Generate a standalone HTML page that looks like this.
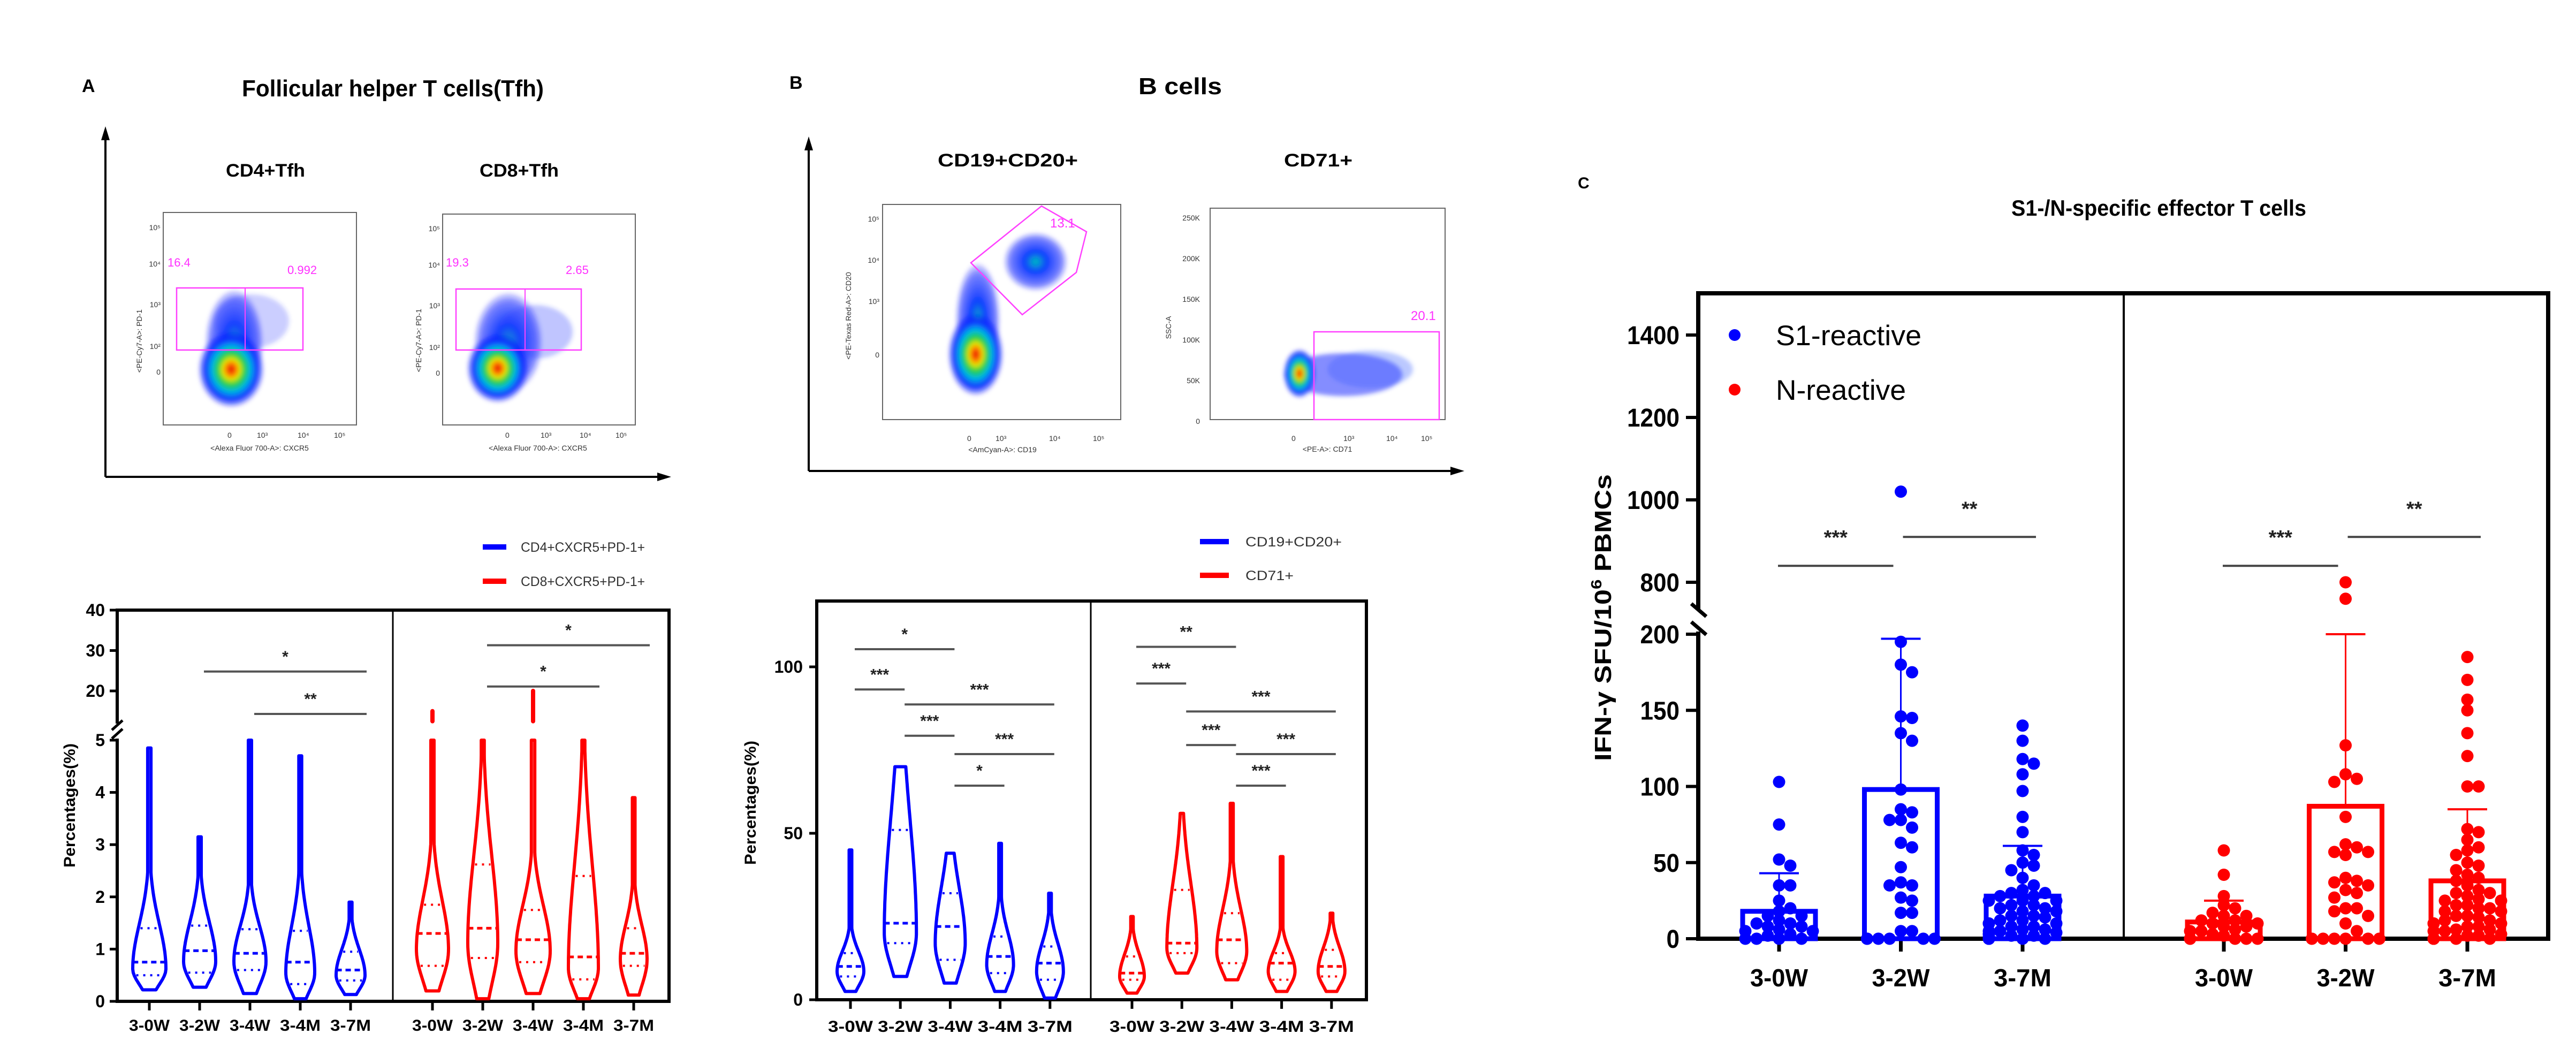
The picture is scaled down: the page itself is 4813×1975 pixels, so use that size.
<!DOCTYPE html>
<html><head><meta charset="utf-8"><style>
html,body{margin:0;padding:0;background:#fff;}
svg{display:block;font-family:"Liberation Sans",Arial,sans-serif;}
.b{font-weight:bold;}
</style></head><body>
<svg id="fig" width="4813" height="1975" viewBox="0 0 4813 1975" xmlns="http://www.w3.org/2000/svg">
<defs>
<radialGradient id="heat" cx="50%" cy="50%" r="50%">
<stop offset="0%" stop-color="#e00000"/><stop offset="14%" stop-color="#ff7000"/><stop offset="26%" stop-color="#e8e800"/><stop offset="40%" stop-color="#20d040"/><stop offset="58%" stop-color="#00b8e8"/><stop offset="78%" stop-color="#1030ff"/><stop offset="100%" stop-color="#0000ff" stop-opacity="0"/>
</radialGradient>
<radialGradient id="cool" cx="50%" cy="50%" r="50%">
<stop offset="0%" stop-color="#00c0c0"/><stop offset="35%" stop-color="#1040ff"/><stop offset="80%" stop-color="#2030ff" stop-opacity="0.6"/><stop offset="100%" stop-color="#0000ff" stop-opacity="0"/>
</radialGradient>
<filter id="bl"><feGaussianBlur stdDeviation="4"/></filter>
</defs>
<rect x="0" y="0" width="4813" height="1975" fill="#fff"/>

<!-- ===== Panel A top ===== -->
<g>
<text x="153" y="172" class="b" font-size="34">A</text>
<text x="452" y="180" class="b" font-size="44" textLength="564" lengthAdjust="spacingAndGlyphs">Follicular helper T cells(Tfh)</text>
<line x1="197" y1="250" x2="197" y2="891" stroke="#000" stroke-width="4"/>
<polygon points="197,236 189,262 205,262" fill="#000"/>
<line x1="197" y1="891" x2="1240" y2="891" stroke="#000" stroke-width="4"/>
<polygon points="1254,891 1228,883 1228,899" fill="#000"/>
<text x="496" y="330" class="b" font-size="34" text-anchor="middle" textLength="148" lengthAdjust="spacingAndGlyphs">CD4+Tfh</text>
<text x="970" y="330" class="b" font-size="34" text-anchor="middle" textLength="148" lengthAdjust="spacingAndGlyphs">CD8+Tfh</text>
<!-- plot 1 -->
<g>
<rect x="305" y="397" width="361" height="397" fill="#fff" stroke="#666" stroke-width="2"/>
<g filter="url(#bl)">
<ellipse cx="438" cy="640" rx="55" ry="100" fill="url(#cool)"/>
<ellipse cx="470" cy="600" rx="70" ry="50" fill="#3040ff" opacity="0.25"/>
<ellipse cx="432" cy="690" rx="62" ry="72" fill="url(#heat)"/>
</g>
<rect x="330" y="538" width="236" height="116" fill="none" stroke="#ff40ff" stroke-width="2.5"/>
<line x1="458" y1="538" x2="458" y2="654" stroke="#ff40ff" stroke-width="2"/>
<text x="313" y="498" font-size="22" fill="#ff30ff">16.4</text>
<text x="537" y="512" font-size="22" fill="#ff30ff">0.992</text>
<text x="287" y="600" font-size="14" fill="#333" text-anchor="end" transform="rotate(-90 265 600)">&lt;PE-Cy7-A&gt;: PD-1</text>
<text x="300" y="430" font-size="14" fill="#333" text-anchor="end">10⁵</text>
<text x="300" y="498" font-size="14" fill="#333" text-anchor="end">10⁴</text>
<text x="300" y="574" font-size="14" fill="#333" text-anchor="end">10³</text>
<text x="300" y="652" font-size="14" fill="#333" text-anchor="end">10²</text>
<text x="300" y="700" font-size="14" fill="#333" text-anchor="end">0</text>
<text x="425" y="818" font-size="14" fill="#333">0</text><text x="480" y="818" font-size="14" fill="#333">10³</text><text x="556" y="818" font-size="14" fill="#333">10⁴</text><text x="624" y="818" font-size="14" fill="#333">10⁵</text>
<text x="485" y="842" font-size="14" fill="#333" text-anchor="middle">&lt;Alexa Fluor 700-A&gt;: CXCR5</text>
</g>
<!-- plot 2 -->
<g>
<rect x="827" y="400" width="360" height="394" fill="#fff" stroke="#666" stroke-width="2"/>
<g filter="url(#bl)">
<ellipse cx="950" cy="640" rx="65" ry="95" fill="url(#cool)"/>
<ellipse cx="1000" cy="620" rx="70" ry="50" fill="#3040ff" opacity="0.3"/>
<ellipse cx="930" cy="688" rx="58" ry="65" fill="url(#heat)"/>
</g>
<rect x="852" y="540" width="234" height="114" fill="none" stroke="#ff40ff" stroke-width="2.5"/>
<line x1="981" y1="540" x2="981" y2="654" stroke="#ff40ff" stroke-width="2"/>
<text x="833" y="498" font-size="22" fill="#ff30ff">19.3</text>
<text x="1057" y="512" font-size="22" fill="#ff30ff">2.65</text>
<text x="810" y="600" font-size="14" fill="#333" text-anchor="end" transform="rotate(-90 787 600)">&lt;PE-Cy7-A&gt;: PD-1</text>
<text x="822" y="432" font-size="14" fill="#333" text-anchor="end">10⁵</text>
<text x="822" y="500" font-size="14" fill="#333" text-anchor="end">10⁴</text>
<text x="822" y="576" font-size="14" fill="#333" text-anchor="end">10³</text>
<text x="822" y="654" font-size="14" fill="#333" text-anchor="end">10²</text>
<text x="822" y="702" font-size="14" fill="#333" text-anchor="end">0</text>
<text x="944" y="818" font-size="14" fill="#333">0</text><text x="1010" y="818" font-size="14" fill="#333">10³</text><text x="1083" y="818" font-size="14" fill="#333">10⁴</text><text x="1150" y="818" font-size="14" fill="#333">10⁵</text>
<text x="1005" y="842" font-size="14" fill="#333" text-anchor="middle">&lt;Alexa Fluor 700-A&gt;: CXCR5</text>
</g>
</g>

<!-- ===== Panel B top ===== -->
<g>
<text x="1475" y="166" class="b" font-size="34">B</text>
<text x="2205" y="176" class="b" font-size="44" text-anchor="middle" textLength="156" lengthAdjust="spacingAndGlyphs">B cells</text>
<line x1="1511" y1="270" x2="1511" y2="880" stroke="#000" stroke-width="4"/>
<polygon points="1511,255 1503,281 1519,281" fill="#000"/>
<line x1="1511" y1="880" x2="2720" y2="880" stroke="#000" stroke-width="4"/>
<polygon points="2736,880 2710,872 2710,888" fill="#000"/>
<text x="1883" y="311" class="b" font-size="34" text-anchor="middle" textLength="262" lengthAdjust="spacingAndGlyphs">CD19+CD20+</text>
<text x="2463" y="311" class="b" font-size="34" text-anchor="middle" textLength="128" lengthAdjust="spacingAndGlyphs">CD71+</text>
<g>
<rect x="1649" y="382" width="445" height="402" fill="#fff" stroke="#666" stroke-width="2"/>
<g filter="url(#bl)">
<ellipse cx="1827" cy="600" rx="42" ry="110" fill="url(#cool)"/>
<ellipse cx="1823" cy="662" rx="52" ry="78" fill="url(#heat)"/>
<ellipse cx="1935" cy="489" rx="60" ry="55" fill="url(#cool)"/>
</g>
<polygon points="1814,491 1946,385 2030,433 2011,509 1910,588" fill="none" stroke="#ff40ff" stroke-width="2.5"/>
<text x="1962" y="425" font-size="24" fill="#ff30ff">13.1</text>
<text x="1590" y="590" font-size="14" fill="#333" text-anchor="middle" transform="rotate(-90 1590 590)">&lt;PE-Texas Red-A&gt;: CD20</text>
<text x="1643" y="414" font-size="14" fill="#333" text-anchor="end">10⁵</text>
<text x="1643" y="491" font-size="14" fill="#333" text-anchor="end">10⁴</text>
<text x="1643" y="568" font-size="14" fill="#333" text-anchor="end">10³</text>
<text x="1643" y="668" font-size="14" fill="#333" text-anchor="end">0</text>
<text x="1807" y="824" font-size="14" fill="#333">0</text><text x="1860" y="824" font-size="14" fill="#333">10³</text><text x="1960" y="824" font-size="14" fill="#333">10⁴</text><text x="2042" y="824" font-size="14" fill="#333">10⁵</text>
<text x="1873" y="845" font-size="14" fill="#333" text-anchor="middle">&lt;AmCyan-A&gt;: CD19</text>
</g>
<g>
<rect x="2261" y="389" width="439" height="395" fill="#fff" stroke="#666" stroke-width="2"/>
<g filter="url(#bl)">
<ellipse cx="2510" cy="700" rx="110" ry="40" fill="#2030ff" opacity="0.55"/>
<ellipse cx="2560" cy="690" rx="80" ry="35" fill="#4060ff" opacity="0.35"/>
<ellipse cx="2428" cy="698" rx="30" ry="46" fill="url(#heat)"/>
</g>
<rect x="2455" y="620" width="234" height="164" fill="none" stroke="#ff40ff" stroke-width="2.5"/>
<text x="2636" y="598" font-size="24" fill="#ff30ff">20.1</text>
<text x="2188" y="612" font-size="14" fill="#333" text-anchor="middle" transform="rotate(-90 2188 612)">SSC-A</text>
<text x="2242" y="412" font-size="14" fill="#333" text-anchor="end">250K</text>
<text x="2242" y="488" font-size="14" fill="#333" text-anchor="end">200K</text>
<text x="2242" y="564" font-size="14" fill="#333" text-anchor="end">150K</text>
<text x="2242" y="640" font-size="14" fill="#333" text-anchor="end">100K</text>
<text x="2242" y="716" font-size="14" fill="#333" text-anchor="end">50K</text>
<text x="2242" y="792" font-size="14" fill="#333" text-anchor="end">0</text>
<text x="2413" y="824" font-size="14" fill="#333">0</text><text x="2510" y="824" font-size="14" fill="#333">10³</text><text x="2590" y="824" font-size="14" fill="#333">10⁴</text><text x="2655" y="824" font-size="14" fill="#333">10⁵</text>
<text x="2480" y="844" font-size="14" fill="#333" text-anchor="middle">&lt;PE-A&gt;: CD71</text>
</g>
</g>

<!-- ===== Panel A bottom legend ===== -->
<g>
<rect x="902" y="1017" width="44" height="10" fill="#0000ff"/>
<text x="973" y="1031" font-size="25" fill="#333" textLength="232" lengthAdjust="spacingAndGlyphs">CD4+CXCR5+PD-1+</text>
<rect x="902" y="1081" width="44" height="10" fill="#ff0000"/>
<text x="973" y="1095" font-size="25" fill="#333" textLength="232" lengthAdjust="spacingAndGlyphs">CD8+CXCR5+PD-1+</text>
</g>
<g>
<rect x="2242" y="1007" width="54" height="10" fill="#0000ff"/>
<text x="2327" y="1021" font-size="25" fill="#333" textLength="180" lengthAdjust="spacingAndGlyphs">CD19+CD20+</text>
<rect x="2242" y="1070" width="54" height="10" fill="#ff0000"/>
<text x="2327" y="1084" font-size="25" fill="#333" textLength="90" lengthAdjust="spacingAndGlyphs">CD71+</text>
</g>

<!-- ===== Panel C static ===== -->
<text x="2948" y="352" class="b" font-size="30">C</text>
<text x="3758" y="403" class="b" font-size="42" textLength="551" lengthAdjust="spacingAndGlyphs">S1-/N-specific effector T cells</text>
<g>
<circle cx="3241" cy="626" r="11" fill="#0000ff"/>
<text x="3318" y="645" font-size="53" textLength="272" lengthAdjust="spacingAndGlyphs">S1-reactive</text>
<circle cx="3241" cy="728" r="11" fill="#ff0000"/>
<text x="3318" y="747" font-size="53" textLength="243" lengthAdjust="spacingAndGlyphs">N-reactive</text>
</g>
<text x="0" y="0" class="b" font-size="44" text-anchor="middle" transform="translate(3010 1154) rotate(-90)" textLength="536" lengthAdjust="spacingAndGlyphs">IFN-γ SFU/10<tspan font-size="28" dy="-18">6</tspan><tspan dy="18"> PBMCs</tspan></text>

<g id="charts"></g>
</svg>

<script>
// ---------- Panel A data (violins, % of cells) ----------
const aCategories = ['3-0W','3-2W','3-4W','3-4M','3-7M'];
const aBlueMin = [0.22,0.27,0.15,0.05,0.13];
const aBlueQ1  = [0.5,0.55,0.6,0.33,0.4];
const aBlueMed = [0.75,0.97,0.92,0.75,0.6];
const aBlueQ3  = [1.4,1.45,1.38,1.35,0.95];
const aBlueMax = [4.85,3.15,5.0,4.7,1.9];
const aBlueDensity = [31,30,30,27,27];
const aRedMin = [0.2,0.05,0.15,0.05,0.12];
const aRedQ1  = [0.68,0.83,0.75,0.42,0.68];
const aRedMed = [1.3,1.4,1.18,0.85,0.92];
const aRedQ3  = [1.85,2.62,1.75,2.4,1.4];
const aRedMax = [15,5,20,5,3.9];
const aRedDensity = [30,28,32,28,25];
const aTickLower = [0,1,2,3,4,5];
const aTickUpper = [20,30,40];
const aSigFrom = [1,2,1,1];
const aSigTo   = [4,4,4,3];
const aSigVal  = [24.8,14.3,31.3,21.1];
const aSigText = ['*','**','*','*'];
const aSigSeries = ['blue','blue','red','red'];

// ---------- Panel B data ----------
const bCategories = ['3-0W','3-2W','3-4W','3-4M','3-7M'];
const bBlueMin = [2.5,7,5,2.5,0.5];
const bBlueQ1  = [7,17,12,8,6];
const bBlueMed = [10,23,22,13,11];
const bBlueQ3  = [14,51,32,19,16];
const bBlueMax = [45,70,44,47,32];
const bBlueDensity = [25,30,28,25,25];
const bRedMin = [2,8,6,2.5,2.5];
const bRedQ1  = [6,14,11,6,7];
const bRedMed = [8,17,18,11,10];
const bRedQ3  = [13,33,26,14,15];
const bRedMax = [25,56,59,43,26];
const bRedDensity = [23,28,28,25,25];
const bTicks = [0,50,100];
const bSigFrom = [0,0,1,1,2,2, 0,0,1,1,2,2];
const bSigTo   = [2,1,4,2,4,3, 2,1,4,2,4,3];
const bSigVal  = [105.3,93.2,88.7,79.3,73.8,64.3, 106,95,86.6,76.5,73.8,64.3];
const bSigText = ['*','***','***','***','***','*', '**','***','***','***','***','***'];
const bSigSeries = ['blue','blue','blue','blue','blue','blue','red','red','red','red','red','red'];

// ---------- Panel C data (IFN-γ SFU/10^6 PBMCs) ----------
const cCategories = ['3-0W','3-2W','3-7M'];
const s1Mean = [18,98,28];
const s1ErrTop = [43,197,61];
const nMean = [11,87,38];
const nErrTop = [25,200,85];
const s1Pts0 = [103,75,52,48,35,35,25,20,18,15,12,10,10,8,8,6,5,5,3,2,0,0,0,0,15];
const s1Pts1 = [1020,195,180,175,146,145,135,130,98,85,83,78,78,73,63,60,47,37,35,35,27,25,17,17,5,5,0,0,0,0,0,0];
const s1Pts2 = [140,130,118,115,108,97,80,70,58,55,50,48,45,40,35,32,30,30,28,28,25,25,22,20,20,18,15,15,12,12,10,10,8,8,6,5,5,4,3,2,2,1,0,0,0,0,0,0,0,0,25,22,18,14,10,6,3,0,0];
const nPts0 = [58,42,28,22,20,17,15,15,12,12,10,10,8,8,6,5,5,3,2,0,0,0,0,0];
const nPts1 = [800,760,127,108,105,103,80,62,60,57,57,55,40,38,37,35,32,30,27,20,20,18,15,10,5,0,0,0,0,0,0];
const nPts2 = [185,170,157,150,135,120,100,100,72,70,65,60,58,55,50,48,45,42,40,38,35,32,30,28,25,25,22,20,20,18,15,15,12,12,10,10,8,8,6,5,5,3,2,0,0,0,0,0,0,0,30,26,22,18,14,10,6,2,0];
const cTickLower = [0,50,100,150,200];
const cTickUpper = [800,1000,1200,1400];
const cSigFrom = [0,1,0,1];
const cSigTo   = [1,2,1,2];
const cSigVal  = [840,910,840,910];
const cSigText = ['***','**','***','**'];
const cSigPanel = [0,0,1,1];

const NS = 'http://www.w3.org/2000/svg';
const root = document.getElementById('charts');
function mk(tag, attrs, parent){
  const e = document.createElementNS(NS, tag);
  for (const k in attrs) e.setAttribute(k, attrs[k]);
  (parent || root).appendChild(e);
  return e;
}
const BLUE = '#0000ff', RED = '#ff0000';

// ---------- axis functions ----------
function yA(v){ return v <= 5 ? 1871 - v*97.6 : 1291 - (v-20)*7.55; }
function xA(series, i){ return (series === 'blue' ? 279 : 808) + i*94; }
function yB(v){ return 1868 - v*6.22; }
function xB(series, i){ return (series === 'blue' ? 1589 : 2115) + i*93.2; }
function yC(v){ return v <= 200 ? 1754 - v*2.845 : 1088 - (v-800)*0.77; }
function xC(panel, i){ return (panel === 0 ? 3324 : 4155) + i*227.5; }

// ---------- violin ----------
function violin(g, cx, yf, mn, q1, md, q3, mx, hw, cap, color, name){
  const mode = (q1 + md)/2;
  const sL = Math.max((mode - mn)/1.35, 0.01);
  const sR = Math.max((q3 - mode)*1.1, 0.01);
  const top = Math.min(mx, cap);
  const N = 70, pts = [];
  for (let k = 0; k <= N; k++){
    const v = mn + (top - mn)*k/N;
    const s = v < mode ? sL : sR;
    const w = hw * Math.max(0.1, Math.exp(-0.5*((v-mode)/s)**2));
    pts.push([v, w]);
  }
  let d = '';
  pts.forEach((p,k)=>{ d += (k?'L':'M') + (cx+p[1]).toFixed(1) + ',' + yf(p[0]).toFixed(1); });
  for (let k = pts.length-1; k >= 0; k--){ d += 'L' + (cx-pts[k][1]).toFixed(1) + ',' + yf(pts[k][0]).toFixed(1); }
  d += 'Z';
  const p = mk('path', {d:d, fill:'none', stroke:color, 'stroke-width':6, 'stroke-linejoin':'round'}, g);
  
  
  const wAt = v => { const s = v < mode ? sL : sR; return hw*Math.max(0.1, Math.exp(-0.5*((v-mode)/s)**2)); };
  const med = mk('line', {x1:cx-wAt(md), x2:cx+wAt(md), y1:yf(md), y2:yf(md), stroke:color, 'stroke-width':5, 'stroke-dasharray':'10 7'}, g);
  
  
  [q1, q3].forEach(q => {
    if (q > cap) return;
    const l = mk('line', {x1:cx-wAt(q)+4, x2:cx+wAt(q)-4, y1:yf(q), y2:yf(q), stroke:color, 'stroke-width':4, 'stroke-dasharray':'4 9'}, g);
    
    
  });
  if (mx > cap){
    const t = mk('line', {x1:cx, x2:cx, y1:yf(12.5), y2:yf(mx), stroke:color, 'stroke-width':8, 'stroke-linecap':'round'}, g);
    
    
  }
}

function sigBar(g, x1, x2, y, txt, name){
  const l = mk('line', {x1:x1, x2:x2, y1:y, y2:y, stroke:'#555', 'stroke-width':4}, g);
  
  
  const t = mk('text', {x:(x1+x2)/2, y:y-18, 'font-size':30, 'text-anchor':'middle', fill:'#222', 'font-weight':'bold'}, g);
  t.textContent = txt;
  
  
}

function xLabels(g, xs, y, fs, len, cats, name){
  cats.forEach((c,i)=>{
    const t = mk('text', {x:xs(i), y:y, 'font-size':fs, 'text-anchor':'middle', 'font-weight':'bold', textLength:len, lengthAdjust:'spacingAndGlyphs'}, g);
    t.textContent = c;
    
    
  });
}

// ================= Panel A violin chart =================
(function(){
  const g = mk('g', {});
  
  
  const fr = mk('rect', {x:219, y:1140, width:1031, height:731, fill:'none', stroke:'#000', 'stroke-width':6}, g);
  
  
  const dv = mk('line', {x1:734, x2:734, y1:1140, y2:1871, stroke:'#000', 'stroke-width':3}, g);
  
  
  // axis break
  const gap = mk('rect', {x:212, y:1352, width:16, height:28, fill:'#fff'}, g);
  
  
  [1354, 1370].forEach(yy => {
    const s = mk('line', {x1:209, y1:yy+10, x2:229, y2:yy-8, stroke:'#000', 'stroke-width':5}, g);
    
    
  });
  aTickLower.concat(aTickUpper).forEach(v => {
    const tk = mk('line', {x1:205, x2:219, y1:yA(v), y2:yA(v), stroke:'#000', 'stroke-width':5}, g);
    
    
    const t = mk('text', {x:196, y:yA(v)+11, 'font-size':32, 'text-anchor':'end', 'font-weight':'bold'}, g);
    t.textContent = v;
    
    
  });
  const yt = mk('text', {x:0, y:0, 'font-size':30, 'text-anchor':'middle', 'font-weight':'bold', transform:'translate(140 1505) rotate(-90)', textLength:232, lengthAdjust:'spacingAndGlyphs'}, g);
  yt.textContent = 'Percentages(%)';
  
  
  ['blue','red'].forEach(s => {
    aCategories.forEach((c,i) => {
      const tk = mk('line', {x1:xA(s,i), x2:xA(s,i), y1:1871, y2:1888, stroke:'#000', 'stroke-width':5}, g);
      
      
    });
    xLabels(g, i => xA(s,i), 1926, 30, 76, aCategories, 'x-tick-label');
  });
  aCategories.forEach((c,i) => {
    violin(g, xA('blue',i), yA, aBlueMin[i], aBlueQ1[i], aBlueMed[i], aBlueQ3[i], aBlueMax[i], aBlueDensity[i], 5, BLUE, 'violin-cd4-' + c);
    violin(g, xA('red',i), yA, aRedMin[i], aRedQ1[i], aRedMed[i], aRedQ3[i], aRedMax[i], aRedDensity[i], 5, RED, 'violin-cd8-' + c);
  });
  aSigVal.forEach((v,k) => {
    const s = aSigSeries[k];
    sigBar(g, xA(s, aSigFrom[k]) + 8, xA(s, aSigTo[k]) + 30, yA(v), aSigText[k], 'significance-bar');
  });
})();

// ================= Panel B violin chart =================
(function(){
  const g = mk('g', {});
  
  
  const fr = mk('rect', {x:1526, y:1123, width:1027, height:745, fill:'none', stroke:'#000', 'stroke-width':6}, g);
  
  
  const dv = mk('line', {x1:2038, x2:2038, y1:1123, y2:1868, stroke:'#000', 'stroke-width':3}, g);
  
  
  bTicks.forEach(v => {
    const tk = mk('line', {x1:1512, x2:1526, y1:yB(v), y2:yB(v), stroke:'#000', 'stroke-width':5}, g);
    
    
    const t = mk('text', {x:1500, y:yB(v)+11, 'font-size':32, 'text-anchor':'end', 'font-weight':'bold'}, g);
    t.textContent = v;
    
    
  });
  const yt = mk('text', {x:0, y:0, 'font-size':30, 'text-anchor':'middle', 'font-weight':'bold', transform:'translate(1412 1500) rotate(-90)', textLength:232, lengthAdjust:'spacingAndGlyphs'}, g);
  yt.textContent = 'Percentages(%)';
  
  
  ['blue','red'].forEach(s => {
    bCategories.forEach((c,i) => {
      const tk = mk('line', {x1:xB(s,i), x2:xB(s,i), y1:1868, y2:1885, stroke:'#000', 'stroke-width':5}, g);
      
      
    });
    xLabels(g, i => xB(s,i), 1928, 30, 84, bCategories, 'x-tick-label');
  });
  bCategories.forEach((c,i) => {
    violin(g, xB('blue',i), yB, bBlueMin[i], bBlueQ1[i], bBlueMed[i], bBlueQ3[i], bBlueMax[i], bBlueDensity[i], 200, BLUE, 'violin-cd19-' + c);
    violin(g, xB('red',i), yB, bRedMin[i], bRedQ1[i], bRedMed[i], bRedQ3[i], bRedMax[i], bRedDensity[i], 200, RED, 'violin-cd71-' + c);
  });
  bSigVal.forEach((v,k) => {
    const s = bSigSeries[k];
    sigBar(g, xB(s, bSigFrom[k]) + 8, xB(s, bSigTo[k]) + 8, yB(v), bSigText[k], 'significance-bar');
  });
})();

// ================= Panel C bar + scatter chart =================
(function(){
  const g = mk('g', {});
  
  
  const fr = mk('rect', {x:3173, y:548, width:1588, height:1206, fill:'none', stroke:'#000', 'stroke-width':8}, g);
  
  
  const dv = mk('line', {x1:3968, x2:3968, y1:548, y2:1754, stroke:'#000', 'stroke-width':4}, g);
  
  
  const gap = mk('rect', {x:3162, y:1140, width:22, height:40, fill:'#fff'}, g);
  
  
  [1138, 1172].forEach(yy => {
    const s = mk('line', {x1:3160, y1:yy-10, x2:3188, y2:yy+14, stroke:'#000', 'stroke-width':7}, g);
    
    
  });
  cTickLower.concat(cTickUpper).forEach(v => {
    const tk = mk('line', {x1:3150, x2:3173, y1:yC(v), y2:yC(v), stroke:'#000', 'stroke-width':6}, g);
    
    
    const t = mk('text', {x:3138, y:yC(v)+17, 'font-size':48, 'text-anchor':'end', 'font-weight':'bold', textLength:String(v).length*24.5, lengthAdjust:'spacingAndGlyphs'}, g);
    t.textContent = v;
    
    
  });
  const series = [
    {name:'s1', color:BLUE, mean:s1Mean, err:s1ErrTop, pts:[s1Pts0,s1Pts1,s1Pts2], panel:0},
    {name:'n', color:RED, mean:nMean, err:nErrTop, pts:[nPts0,nPts1,nPts2], panel:1}
  ];
  series.forEach(sr => {
    cCategories.forEach((c,i) => {
      const cx = xC(sr.panel, i);
      const tk = mk('line', {x1:cx, x2:cx, y1:1754, y2:1778, stroke:'#000', 'stroke-width':7}, g);
      
      
      const bar = mk('rect', {x:cx-68, y:yC(sr.mean[i]), width:136, height:yC(0)-yC(sr.mean[i]), fill:'none', stroke:sr.color, 'stroke-width':9}, g);
      
      
      const el = mk('line', {x1:cx, x2:cx, y1:yC(sr.mean[i]), y2:yC(sr.err[i]), stroke:sr.color, 'stroke-width':3}, g);
      
      
      const cap = mk('line', {x1:cx-37, x2:cx+37, y1:yC(sr.err[i]), y2:yC(sr.err[i]), stroke:sr.color, 'stroke-width':4}, g);
      
      
      // beeswarm layout
      const vals = sr.pts[i].slice().sort((a,b)=>b-a);
      const placed = [];
      vals.forEach(v => {
        const y = yC(v);
        let x = cx;
        for (let k = 0; k < 14; k++){
          const off = (k % 2 ? 1 : -1) * Math.ceil(k/2) * 21;
          const tx = cx + off;
          if (Math.abs(off) > 68) continue;
          if (placed.every(p => Math.hypot(p[0]-tx, p[1]-y) >= 17)){ x = tx; break; }
          x = tx;
        }
        placed.push([x,y]);
        const d = mk('circle', {cx:x, cy:y, r:11.5, fill:sr.color}, g);
        
        
      });
    });
    xLabels(g, i => xC(sr.panel, i), 1843, 46, 108, cCategories, 'x-tick-label');
  });
  cSigVal.forEach((v,k) => {
    const p = cSigPanel[k];
    const x1 = xC(p, cSigFrom[k]) + (cSigFrom[k] === 0 ? -2 : 4);
    const x2 = xC(p, cSigTo[k]) + (cSigTo[k] === 2 ? 25 : -14);
    const l = mk('line', {x1:x1, x2:x2, y1:yC(v), y2:yC(v), stroke:'#444', 'stroke-width':4}, g);
    
    
    const t = mk('text', {x:(x1+x2)/2, y:yC(v)-40, 'font-size':38, 'text-anchor':'middle', 'font-weight':'bold', fill:'#222'}, g);
    t.textContent = cSigText[k];
    
    
  });
})();
</script>
</body></html>
